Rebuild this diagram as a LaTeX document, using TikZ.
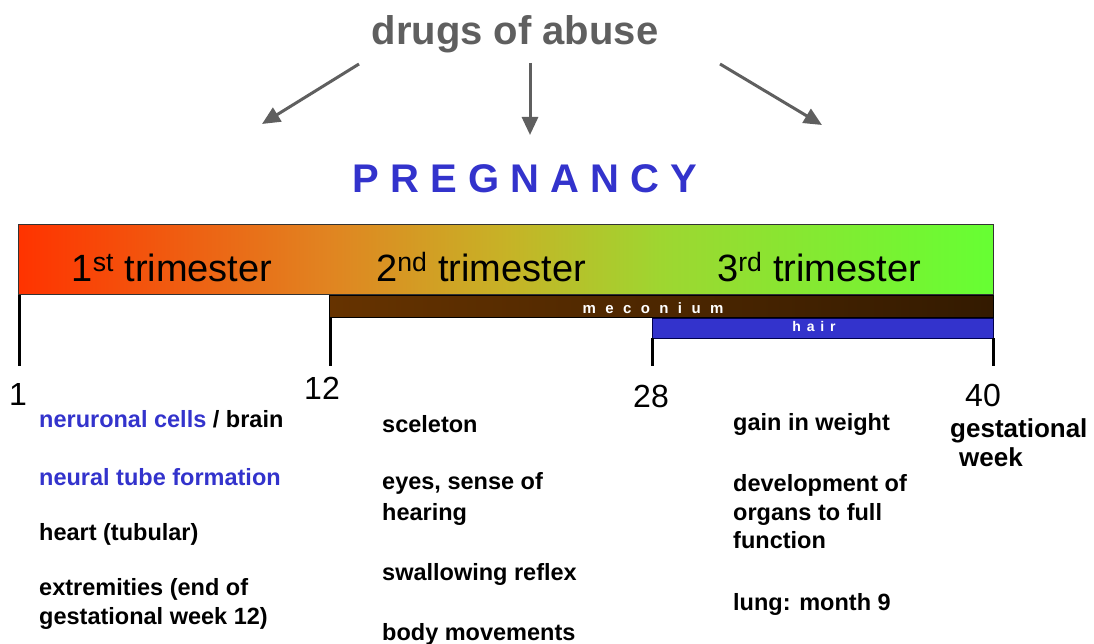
\documentclass[tikz,border=0pt]{standalone}
\usepackage{fontspec}
\setmainfont{Liberation Sans}
\usetikzlibrary{arrows.meta}

\definecolor{pregblue}{HTML}{3333CC}
\definecolor{druggray}{HTML}{5F5F5F}
\definecolor{mecleft}{HTML}{663300}
\definecolor{mecright}{HTML}{331A00}
\pgfdeclarehorizontalshading{trimshade}{100bp}{rgb(0bp)=(1,0.2,0); rgb(25bp)=(1,0.2,0);
  rgb(41bp)=(0.88,0.52,0.13); rgb(50bp)=(0.78,0.70,0.15); rgb(58bp)=(0.62,0.84,0.19);
  rgb(75bp)=(0.4,1,0.2); rgb(100bp)=(0.4,1,0.2)}

\begin{document}
\begin{tikzpicture}[x=1pt, y=-1pt,
    item/.style={anchor=base west, inner sep=0pt, font=\fontsize{23.5}{28}\selectfont\bfseries},
    weeknum/.style={anchor=base, inner sep=0pt, font=\fontsize{32}{38}\selectfont},
    trim/.style={anchor=base, inner sep=0pt, font=\fontsize{38}{44}\selectfont},
    tick/.style={line width=3pt},
    drug/.style={druggray, line width=3pt, -{Triangle[length=18pt, width=16pt]}},
    spaced/.style={anchor=base, text=white, inner sep=0pt}]

    \useasboundingbox (0,0) rectangle (1094,644);

    % Title and arrows
    \node (drugs) [anchor=base, inner sep=0pt, text=druggray,
          font=\fontsize{40}{48}\selectfont\bfseries] at (515,45) {drugs of abuse};
    \node (preg) [anchor=base, inner sep=0pt, text=pregblue,
          font=\fontsize{40}{48}\selectfont\bfseries] at (525,193) {P R E G N A N C Y};
    \coordinate (dl) at (359,64);  \coordinate (tl) at (262,124);
    \coordinate (dm) at (530,63);  \coordinate (tm) at (530,135);
    \coordinate (dr) at (720,64);  \coordinate (tr) at (822,125);
    \draw [drug] (dl) -- (tl);
    \draw [drug] (dm) -- (tm);
    \draw [drug] (dr) -- (tr);

    % Trimester bar
    \node (bar) [draw=black!80, line width=0.8pt, shading=trimshade, anchor=north west,
          minimum width=975pt, minimum height=70pt, inner sep=0pt] at (18,224) {};
    \node (t1) [trim] at (172,281) {1\textsuperscript{st} trimester};
    \node (t2) [trim] at (481,281) {2\textsuperscript{nd} trimester};
    \node (t3) [trim] at (819,281) {3\textsuperscript{rd} trimester};

    % Meconium and hair
    \node (mec) [draw=black, line width=0.8pt, left color=mecleft, right color=mecright,
          anchor=north east, minimum width=664pt, minimum height=22pt, inner sep=0pt]
          at (bar.south east) {};
    \node (mectext) [spaced, font=\fontsize{15}{18}\selectfont\bfseries]
          at (653,313) {\spaceskip=9.4pt m e c o n i u m};
    \node (hair) [draw=black!70!blue, line width=0.8pt, fill=pregblue, anchor=north east,
          minimum width=341pt, minimum height=20pt, inner sep=0pt] at (mec.south east) {};
    \node (hairtext) [spaced, font=\fontsize{14}{17}\selectfont\bfseries]
          at (814,331) {\spaceskip=5.8pt h a i r};

    % Ticks
    \coordinate (w1) at (19,366);
    \coordinate (w12) at (330,366);
    \coordinate (w28) at (652,366);
    \coordinate (w40) at (993,366);
    \draw [tick] (bar.south west -| w1) -- (w1);
    \draw [tick] (mec.south west -| w12) -- (w12);
    \draw [tick] (hair.south west -| w28) -- (w28);
    \draw [tick] (hair.south east -| w40) -- (w40);
    \node (n1) [weeknum] at (18,405) {1};
    \node (n12) [weeknum] at (322,399) {12};
    \node (n28) [weeknum] at (651,407) {28};
    \node (n40) [weeknum] at (983,406) {40};
    \node (gest) [item, font=\fontsize{26}{30}\selectfont\bfseries] at (950,437) {gestational};
    \node (week) [item, font=\fontsize{26}{30}\selectfont\bfseries] at (959,466) {week};

    % 1st trimester
    \foreach \y/\txt [count=\k] in {427/{\textcolor{pregblue}{neruronal cells} / brain},
        485/\textcolor{pregblue}{neural tube formation}, 540/heart (tubular),
        595/extremities (end of, 624/gestational week 12)} {
      \node (a\k) [item] at (39,\y) {\txt};
    }

    % 2nd trimester
    \foreach \y/\txt [count=\k] in {432/sceleton, 489/{eyes, sense of}, 520/hearing,
        580/swallowing reflex, 640/body movements} {
      \node (b\k) [item] at (382,\y) {\txt};
    }

    % 3rd trimester
    \foreach \y/\txt [count=\k] in {430/gain in weight, 491/development of,
        520/organs to full, 548/function, 610/lung: month 9} {
      \node (c\k) [item] at (733,\y) {\txt};
    }
\end{tikzpicture}
\end{document}
